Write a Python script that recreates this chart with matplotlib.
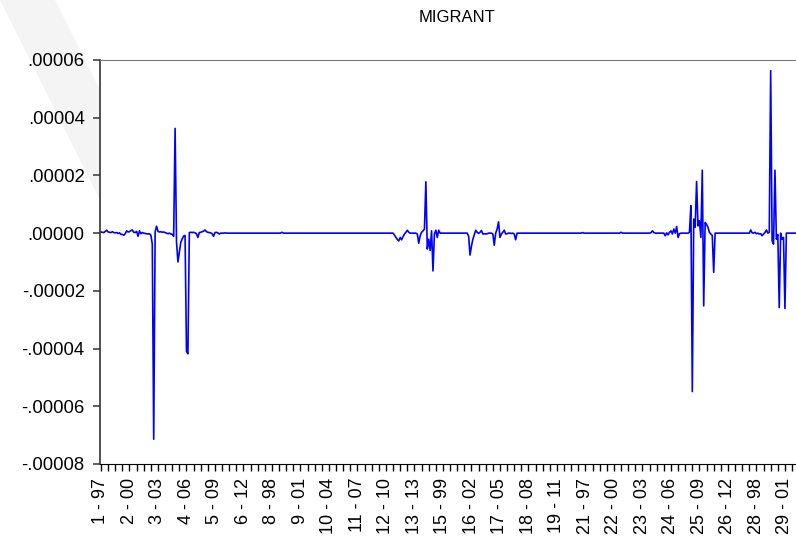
import matplotlib
matplotlib.use('Agg')
import matplotlib.pyplot as plt
from matplotlib.patches import Polygon
from matplotlib.ticker import FixedLocator, MultipleLocator, FuncFormatter
import numpy as np

# Panel layout: 29 cross-sections x 17 years (1997-2013), stacked
n_cross = 29
years = list(range(1997, 2014))

# MIGRANT values in units of 1e-6, one row per cross-section
migrant_e6 = [
    [0.4, 0.3, 0.2, 0.6, 1.0, 0.4, 0.3, 0.2, 0.5, 0.2, 0.1, 0.2, -0.1, 0.1, -0.4, -0.5, -0.7],
    [-0.2, 0.8, 0.4, 0.5, 0.9, 1.1, 0.3, 0.2, 0.6, -1.1, 0.8, -0.2, 0.2, 0.0, -0.1, -0.2, -0.3],
    [-0.2, -0.7, -3.8, -71.4, 0.5, 2.4, 0.6, 0.4, 0.5, 0.3, 0.4, 0.2, 0.0, -0.2, 0.0, -0.3, -0.4],
    [-1.1, 36.3, -3.0, -10.0, -6.5, -3.2, -2.0, -1.0, -0.8, -41.0, -41.8, 0.2, 0.3, 0.2, 0.3, 0.1, -0.2],
    [-1.5, 0.2, 0.3, 0.5, 0.7, 1.1, 0.5, 0.3, 0.2, 0.1, -0.2, -1.1, 0.2, 0.3, 0.1, -0.3, 0.0],
    [0.0, 0.0, 0.1, 0.0, 0.0, 0.0, 0.0, 0.0, 0.0, 0.0, 0.0, 0.0, 0.0, 0.0, 0.0, 0.0, 0.0],
    [0.0, 0.0, 0.0, 0.0, 0.0, 0.0, 0.0, 0.0, 0.0, 0.0, 0.0, 0.0, 0.0, 0.0, 0.0, 0.0, 0.0],
    [0.0, 0.0, 0.0, 0.0, 0.0, 0.0, 0.0, 0.0, 0.3, 0.0, 0.0, 0.0, 0.0, 0.0, 0.0, 0.0, 0.0],
    [0.0, 0.0, 0.0, 0.0, 0.0, 0.0, 0.0, 0.0, 0.0, 0.0, 0.0, 0.0, 0.0, 0.0, 0.0, 0.0, 0.0],
    [0.0, 0.0, 0.0, 0.0, 0.0, 0.0, 0.0, 0.0, 0.0, 0.0, 0.0, 0.0, 0.0, 0.0, 0.0, 0.0, 0.0],
    [0.0, 0.0, 0.0, 0.0, 0.0, 0.0, 0.0, 0.0, 0.0, 0.0, 0.0, 0.0, 0.0, 0.0, 0.0, 0.0, 0.0],
    [0.0, 0.0, 0.0, 0.0, 0.0, 0.0, 0.0, 0.0, 0.0, 0.0, 0.0, 0.0, 0.0, 0.0, 0.0, 0.0, 0.0],
    [0.0, 0.0, -0.7, -1.5, -2.2, -2.7, -1.5, -2.3, -1.2, -0.3, 0.3, 1.0, 0.3, 0.0, 0.0, 0.0, 0.0],
    [0.0, -0.3, -3.5, -0.9, 0.3, 0.8, 1.4, 17.8, -5.5, -2.1, -6.0, 0.8, -13.1, -0.3, 1.0, -1.5, 1.0],
    [0.0, 0.0, 0.0, 0.0, 0.0, 0.0, 0.0, 0.0, 0.0, 0.0, 0.0, 0.0, 0.0, 0.0, 0.0, 0.0, 0.0],
    [0.0, 0.0, 0.0, -1.0, -7.6, -4.5, -2.1, -0.5, 1.0, 0.3, -0.1, 0.3, 0.9, -0.3, -0.2, -0.3, -0.2],
    [0.0, 0.0, 0.0, -0.3, -4.2, 0.0, 1.4, 3.9, -1.5, -0.3, 0.3, 1.0, -0.3, -0.2, 0.0, 0.0, -0.1],
    [0.0, -0.3, -2.3, 0.0, 0.0, 0.0, 0.0, 0.0, 0.0, 0.0, 0.0, 0.0, 0.0, 0.0, 0.0, 0.0, 0.0],
    [0.0, 0.0, 0.0, 0.0, 0.0, 0.0, 0.0, 0.0, 0.0, 0.0, 0.0, 0.0, 0.0, 0.0, 0.0, 0.0, 0.0],
    [0.0, 0.0, 0.0, 0.0, 0.0, 0.0, 0.0, 0.0, 0.0, 0.0, 0.0, 0.0, 0.0, 0.0, 0.0, 0.2, 0.0],
    [0.0, 0.0, 0.0, 0.0, 0.0, 0.0, 0.0, 0.0, 0.0, 0.0, 0.0, 0.0, 0.0, 0.0, 0.0, 0.0, 0.0],
    [0.0, 0.0, 0.0, 0.0, 0.0, 0.0, 0.0, 0.0, 0.3, 0.0, 0.0, 0.0, 0.0, 0.0, 0.0, 0.0, 0.0],
    [0.0, 0.0, 0.0, 0.0, 0.0, 0.0, 0.0, 0.0, 0.0, 0.0, 0.0, 0.0, 0.2, 0.8, 0.2, 0.0, 0.0],
    [0.0, 0.0, 0.0, 0.0, 0.0, -0.9, 0.1, -0.6, 0.3, 0.8, -0.3, 1.4, 0.0, 2.3, -1.5, -0.2, 0.0],
    [0.0, 0.0, 0.0, 0.0, 0.0, 0.3, 9.5, -54.9, 4.9, 2.0, 17.9, 2.5, 4.3, -1.5, 21.8, -25.2, 3.7],
    [3.0, 2.0, 0.3, -0.3, -0.8, -13.6, 0.0, 0.0, 0.0, 0.0, 0.0, 0.0, 0.0, 0.0, 0.0, 0.0, 0.0],
    [0.0, 0.0, 0.0, 0.0, 0.0, 0.0, 0.0, 0.0, 0.0, 0.0, 0.0, 0.0, 0.0, 0.0, 1.1, 0.1, 0.0],
    [0.3, -0.2, 0.0, -0.3, -0.2, -0.9, -0.3, 0.2, 1.1, 0.0, 0.3, 56.3, -2.7, -3.8, 21.8, -2.1, -0.5],
    [-25.8, 0.0, -2.1, -1.5, -26.1, 0.0, 0.0, 0.0, 0.0, 0.0, 0.0, 0.0, 0.0, 0.0, 0.0, 0.0, 0.0],
]

yticks = [-0.00008, -0.00006, -0.00004, -0.00002, 0.0, 0.00002, 0.00004, 0.00006]

# flatten panel into one observation axis
values = np.array(migrant_e6).ravel() * 1e-6
obs = np.arange(len(values))
labels_at = obs[::20]
tick_labels = [f"{i // len(years) + 1} - {years[i % len(years)] % 100:02d}" for i in labels_at]

plt.rcParams['font.family'] = 'Liberation Sans'

W, H = 796, 545
fig = plt.figure(figsize=(W / 100, H / 100), dpi=100)

# faint diagonal watermark in the upper left margin (behind the plot)
band = Polygon([(0, 1), (55 / W, 1), (200 / W, 1 - 290 / H), (145 / W, 1 - 290 / H)],
               closed=True, transform=fig.transFigure, facecolor='#f4f4f4',
               edgecolor='none', zorder=-5)
fig.patches.append(band)

ax = fig.add_axes([100 / W, 81 / H, 714 / W, 404 / H])
ax.set_zorder(2)
ax.set_facecolor('white')
ax.plot(obs, values, color='#0000ff', lw=1.2)

ax.set_xlim(-0.7, 500.4)
ax.set_ylim(-0.00008, 0.00006)

ax.xaxis.set_major_locator(FixedLocator(labels_at))
ax.xaxis.set_minor_locator(MultipleLocator(5))
ax.set_xticklabels(tick_labels, rotation=90, fontsize=13)
ax.tick_params(axis='x', which='both', direction='out', length=5, width=1, pad=5, color='black')

ax.set_yticks(yticks)
ax.yaxis.set_major_formatter(FuncFormatter(lambda v, p: f"{v:.5f}".replace('0.', '.', 1)))
ax.tick_params(axis='y', direction='out', length=5, width=1.2, pad=6, labelsize=13.3, color='#444444')

ax.spines['right'].set_visible(False)
ax.spines['top'].set_color('#777777')
ax.spines['left'].set_color('#333333')
ax.spines['left'].set_linewidth(1.2)
ax.spines['bottom'].set_color('black')

fig.text(457 / W, 1 - 18 / H, 'MIGRANT', ha='center', va='center', fontsize=12)

fig.savefig('out.png', dpi=100)
